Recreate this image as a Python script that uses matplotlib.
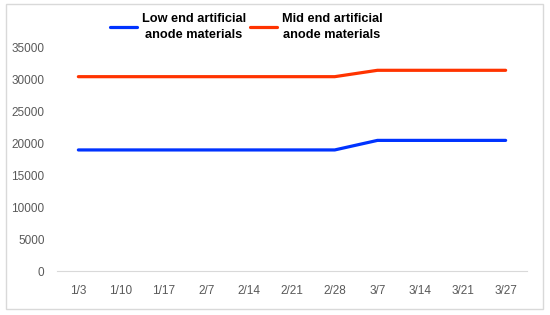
import matplotlib.pyplot as plt
from matplotlib.patches import Rectangle

dates = ["1/3", "1/10", "1/17", "2/7", "2/14", "2/21", "2/28", "3/7", "3/14", "3/21", "3/27"]
low_end = [19000, 19000, 19000, 19000, 19000, 19000, 19000, 20500, 20500, 20500, 20500]
mid_end = [30500, 30500, 30500, 30500, 30500, 30500, 30500, 31500, 31500, 31500, 31500]

W, H = 550, 315
fig = plt.figure(figsize=(W / 100, H / 100), dpi=100)
fig.patch.set_facecolor("white")

# light frame around the whole chart
fig.patches.append(Rectangle((6 / W, 1 - 309 / H), 537 / W, 305 / H,
                             transform=fig.transFigure, fill=False,
                             edgecolor="#d9d9d9", linewidth=1))

ax = fig.add_axes([57 / W, 1 - 271 / H, 470 / W, 223 / H])
x = range(len(dates))
ax.plot(x, low_end, color="#0033ff", linewidth=2.3, solid_capstyle="round",
        label="Low end artificial\nanode materials")
ax.plot(x, mid_end, color="#ff3300", linewidth=2.3, solid_capstyle="round",
        label="Mid end artificial\nanode materials")

ax.set_xlim(-0.5, len(dates) - 0.5)
ax.set_ylim(0, 35000)
ax.set_yticks(range(0, 35001, 5000))
ax.set_xticks(list(x))
ax.set_xticklabels(dates)

for s in ["top", "right", "left"]:
    ax.spines[s].set_visible(False)
ax.spines["bottom"].set_color("#d9d9d9")
ax.tick_params(axis="both", length=0, labelsize=8.5, labelcolor="#595959")
ax.tick_params(axis="x", pad=10)
ax.tick_params(axis="y", pad=9)
for lab in ax.get_xticklabels() + ax.get_yticklabels():
    lab.set_family("Liberation Sans")

leg = fig.legend(loc="center", bbox_to_anchor=(246 / W, 1 - 27 / H), ncol=2,
                 frameon=False, handlelength=2.1, columnspacing=0.3, handletextpad=0.4,
                 prop={"family": "Liberation Sans", "weight": "bold", "size": 9.2})
for t in leg.get_texts():
    t.set_multialignment("center")
    t.set_linespacing(1.35)

fig.savefig("out.png", dpi=100)
